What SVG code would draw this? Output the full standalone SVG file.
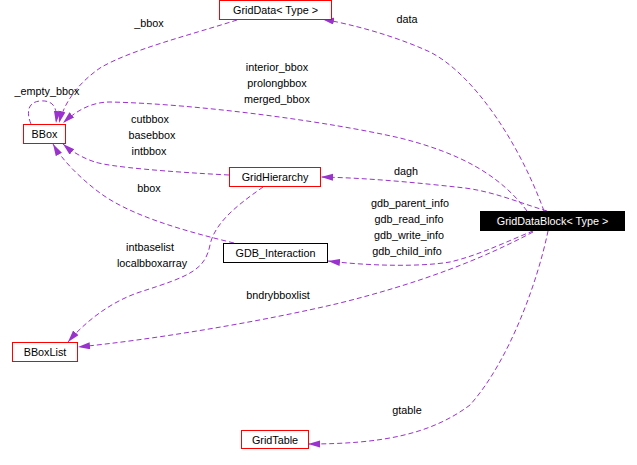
<svg xmlns="http://www.w3.org/2000/svg" width="637" height="465" viewBox="0 0 637 465">
<style>
text{font-family:"Liberation Sans",Arial,sans-serif;font-size:10.8px;text-anchor:middle;fill:#000}
.box{fill:#fff;stroke:#ff0000;stroke-width:1}
.bk{fill:#fff;stroke:#000;stroke-width:1}
.e{fill:none;stroke:#9a32cd;stroke-width:1;stroke-dasharray:5,3}
.w{fill:#fff}
</style>
<defs>
<marker id="ah" markerUnits="userSpaceOnUse" markerWidth="13" markerHeight="8" refX="12" refY="3.5" orient="auto">
<path d="M0,0 L12,3.5 L0,7 z" fill="#9a32cd" stroke="none"/>
</marker>
</defs>
<rect width="637" height="465" fill="#fff"/>
<g id="edges">
<path class="e" marker-end="url(#ah)" d="M544,211 C520,145 475,75 430,52 C395,36 355,25 322,19"/>
<path class="e" marker-end="url(#ah)" d="M527,211 C500,175 460,153 400,138 C330,122 200,104 110,102 C90,102 75,112 63,123"/>
<path class="e" marker-end="url(#ah)" d="M31,124 C26,112 28,102 40,101 C52,100 58,106 56,123"/>
<path class="e" marker-end="url(#ah)" d="M237,20 C190,35 130,50 100,68 C80,82 65,100 59,123"/>
<path class="e" marker-end="url(#ah)" d="M229,175 C170,172 110,167 95,162 C85,159 72,152 63,144"/>
<path class="e" marker-end="url(#ah)" d="M234,243 C180,230 130,215 100,193 C80,178 62,160 53,144"/>
<path class="e" marker-end="url(#ah)" d="M263,187 C245,200 215,220 210,245 C205,270 190,276 140,292 C110,302 85,322 68,342"/>
<path class="e" marker-end="url(#ah)" d="M533,232 C480,260 420,283 340,303 C260,322 150,340 78,347"/>
<path class="e" marker-end="url(#ah)" d="M533,231 C510,240 480,255 450,262 C420,267 370,266 328,261"/>
<path class="e" marker-end="url(#ah)" d="M547,211 C520,203 495,192 465,188 C420,183 370,178 321,177"/>
<path class="e" marker-end="url(#ah)" d="M548,231 C538,280 510,360 470,405 C430,435 380,444 308,444"/>
<text x="407" y="23">data</text>
<text x="277" y="71">interior_bbox</text>
<text x="277" y="87">prolongbbox</text>
<text x="277" y="103">merged_bbox</text>
<text x="47" y="95">_empty_bbox</text>
<text x="149" y="27">_bbox</text>
<text x="150" y="123">cutbbox</text>
<text x="152" y="139">basebbox</text>
<text x="149" y="155">intbbox</text>
<text x="149" y="192">bbox</text>
<text x="150" y="251">intbaselist</text>
<text x="152" y="267">localbboxarray</text>
<text x="278" y="299">bndrybboxlist</text>
<text x="410" y="207">gdb_parent_info</text>
<text x="409" y="223">gdb_read_info</text>
<text x="409" y="239">gdb_write_info</text>
<text x="407" y="255">gdb_child_info</text>
<text x="406" y="175">dagh</text>
<text x="407" y="414">gtable</text>
</g>
<g id="GridData"><rect class="box" x="219.5" y="0.5" width="112" height="19"/><text x="275.5" y="14">GridData&lt; Type &gt;</text></g>
<g id="BBox"><rect class="box" x="23.5" y="124.5" width="42" height="19"/><text x="44.5" y="138">BBox</text></g>
<g id="GridHierarchy"><rect class="box" x="229.5" y="167.5" width="91" height="19"/><text x="275" y="181">GridHierarchy</text></g>
<g id="GDB_Interaction"><rect class="bk" x="223.5" y="243.5" width="104" height="19"/><text x="275.5" y="257">GDB_Interaction</text></g>
<g id="GridDataBlock"><rect x="480" y="211" width="145" height="20" fill="#000"/><text class="w" x="552.5" y="225">GridDataBlock&lt; Type &gt;</text></g>
<g id="BBoxList"><rect class="box" x="12.5" y="342.5" width="65" height="19"/><text x="45" y="356">BBoxList</text></g>
<g id="GridTable"><rect class="box" x="241.5" y="430.5" width="67" height="18"/><text x="275" y="444">GridTable</text></g>
</svg>
